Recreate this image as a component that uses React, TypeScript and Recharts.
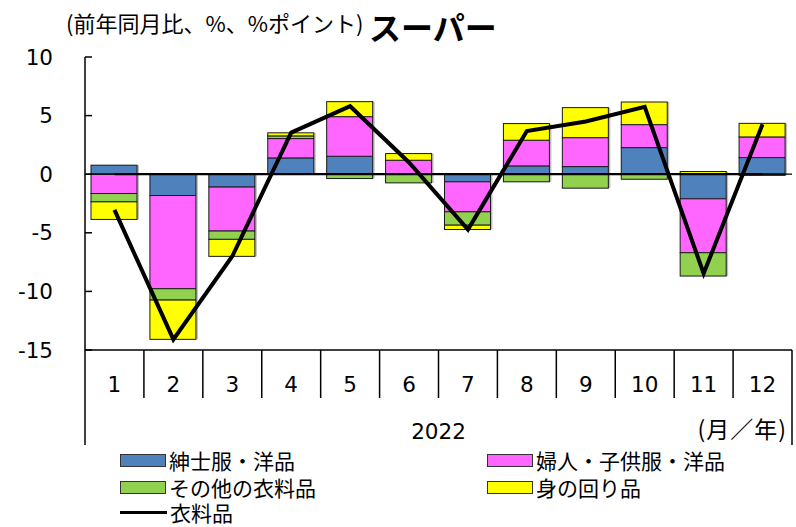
import React from "react";
import { ComposedChart, Bar, Line, XAxis, YAxis, ReferenceLine } from "recharts";

const months = ["1", "2", "3", "4", "5", "6", "7", "8", "9", "10", "11", "12"];
const mens = [0.77, -1.82, -1.1, 1.39, 1.53, 0, -0.65, 0.71, 0.65, 2.27, -2.1, 1.42];
const womens = [-1.65, -7.95, -3.75, 1.65, 3.38, 1.19, -2.56, 2.19, 2.47, 1.96, -4.6, 1.76];
const other = [-0.71, -0.97, -0.71, 0.23, -0.37, -0.74, -1.14, -0.65, -1.19, -0.43, -1.99, -0.1];
const accessories = [-1.5, -3.35, -1.45, 0.26, 1.28, 0.57, -0.37, 1.42, 2.56, 1.93, 0.23, 1.16];
const clothing = [-3.05, -14.1, -7.0, 3.55, 5.8, 1.0, -4.72, 3.68, 4.5, 5.74, -8.47, 4.26];
const zeroLine = [0, 0, 0, 0, 0, 0, 0, 0, 0, 0, 0, 0];
const yTicks = [-15, -10, -5, 0, 5, 10];

const seriesNames = ["紳士服・洋品", "婦人・子供服・洋品", "その他の衣料品", "身の回り品", "衣料品"];
const seriesColors = ["#4F81BD", "#FF66FF", "#92D050", "#FFFF00", "#000000"];

const data = months.map((m, i) => ({
  month: m,
  mens: mens[i],
  womens: womens[i],
  other: other[i],
  accessories: accessories[i],
  clothing: clothing[i],
  zero: zeroLine[i],
}));

const W = 796;
const H = 527;
const PLOT_LEFT = 85;
const PLOT_RIGHT = 792;
const PLOT_TOP = 57;
const PLOT_BOTTOM = 350;
const BAND = (PLOT_RIGHT - PLOT_LEFT) / months.length;
const NUM_FONT = "'DejaVu Sans', Verdana, sans-serif";
const JP_FONT = "'Noto Sans CJK JP', 'Noto Sans', sans-serif";

const BarShape = (props: any) => {
  const { x, y, width, height, fill } = props;
  if (!height || Math.abs(height) < 0.01) return <g />;
  const y0 = height < 0 ? y + height : y;
  const h = Math.abs(height);
  return (
    <g>
      <rect x={x + 2} y={y0} width={width} height={h} fill="#bdbdbd" />
      <rect x={x} y={y0} width={width} height={h} fill={fill} stroke="#1a1a1a" strokeWidth={1} />
    </g>
  );
};

const YTick = (props: any) => {
  const { y, payload } = props;
  return (
    <g>
      <line x1={PLOT_LEFT} x2={PLOT_LEFT + 7} y1={y} y2={y} stroke="#000" strokeWidth={1.5} />
      <text x={53} y={y} textAnchor="end" dominantBaseline="central" fontFamily={NUM_FONT} fontSize={21.5} fill="#000">
        {payload.value}
      </text>
    </g>
  );
};

const XTick = (props: any) => {
  const { x, payload, index } = props;
  const last = index === months.length - 1;
  const right = x + BAND / 2;
  return (
    <g>
      <text x={x} y={384} textAnchor="middle" dominantBaseline="central" fontFamily={NUM_FONT} fontSize={21.5} fill="#000">
        {payload.value}
      </text>
      <line x1={right} x2={right} y1={PLOT_BOTTOM} y2={last ? 445 : 398} stroke="#000" strokeWidth={1.5} />
      {index === 0 && (
        <g>
          <line x1={PLOT_LEFT} x2={PLOT_LEFT} y1={PLOT_BOTTOM} y2={445} stroke="#000" strokeWidth={1.5} />
          <text x={(PLOT_LEFT + PLOT_RIGHT) / 2} y={431} textAnchor="middle" dominantBaseline="central" fontFamily={NUM_FONT} fontSize={21.5} fill="#000">
            2022
          </text>
          <text x={787} y={428} textAnchor="end" dominantBaseline="central" fontFamily={JP_FONT} fontSize={23} letterSpacing={1} fill="#000">
            (月／年)
          </text>
        </g>
      )}
    </g>
  );
};

const legendPos = [
  { left: 120, top: 460 },
  { left: 487, top: 460 },
  { left: 120, top: 487 },
  { left: 487, top: 487 },
  { left: 120, top: 512 },
];

export default function App() {
  return (
    <div style={{ position: "absolute", left: 0, top: 0, width: W, height: H, background: "#fff", overflow: "hidden" }}>
      <ComposedChart
        width={W}
        height={H}
        data={data}
        stackOffset="sign"
        margin={{ top: PLOT_TOP, left: PLOT_LEFT - 60, right: W - PLOT_RIGHT, bottom: H - PLOT_BOTTOM - 30 }}
      >
        <XAxis
          dataKey="month"
          interval={0}
          height={30}
          tickLine={false}
          axisLine={{ stroke: "#000", strokeWidth: 1.5 }}
          tick={<XTick />}
        />
        <YAxis
          width={60}
          domain={[-15, 10]}
          ticks={yTicks}
          allowDataOverflow
          tickLine={false}
          axisLine={{ stroke: "#000", strokeWidth: 1.5 }}
          tick={<YTick />}
        />
        <ReferenceLine y={0} stroke="#000" strokeWidth={1.2} />
        <Bar dataKey="mens" stackId="a" fill={seriesColors[0]} barSize={46} shape={<BarShape />} isAnimationActive={false} />
        <Bar dataKey="womens" stackId="a" fill={seriesColors[1]} barSize={46} shape={<BarShape />} isAnimationActive={false} />
        <Bar dataKey="other" stackId="a" fill={seriesColors[2]} barSize={46} shape={<BarShape />} isAnimationActive={false} />
        <Bar dataKey="accessories" stackId="a" fill={seriesColors[3]} barSize={46} shape={<BarShape />} isAnimationActive={false} />
        <Line dataKey="zero" type="linear" stroke="#000" strokeWidth={2.2} dot={false} activeDot={false} isAnimationActive={false} />
        <Line dataKey="clothing" type="linear" stroke="#000" strokeWidth={4} dot={false} activeDot={false} isAnimationActive={false} />
      </ComposedChart>
      <div style={{ position: "absolute", left: 66, top: 8, fontFamily: JP_FONT, fontSize: 22, whiteSpace: "nowrap", lineHeight: "28px", color: "#000" }}>
        (前年同月比、%、%ポイント)
      </div>
      <div style={{ position: "absolute", left: 369, top: 6, fontFamily: JP_FONT, fontSize: 32, fontWeight: 700, whiteSpace: "nowrap", lineHeight: "40px", color: "#000" }}>
        スーパー
      </div>
      {seriesNames.map((name, i) => (
        <div
          key={name}
          style={{ position: "absolute", left: legendPos[i].left, top: legendPos[i].top - 11, height: 22, display: "flex", alignItems: "center", whiteSpace: "nowrap" }}
        >
          {i < 4 ? (
            <div style={{ width: 46, height: 13, background: seriesColors[i], border: "1px solid #333", boxSizing: "border-box", marginRight: 3 }} />
          ) : (
            <div style={{ width: 47, height: 3, background: "#000", marginRight: 3 }} />
          )}
          <div style={{ display: "inline-block", height: 22, overflow: "visible", fontFamily: JP_FONT, fontSize: 21, lineHeight: "22px", color: "#000" }}>{name}</div>
        </div>
      ))}
    </div>
  );
}
